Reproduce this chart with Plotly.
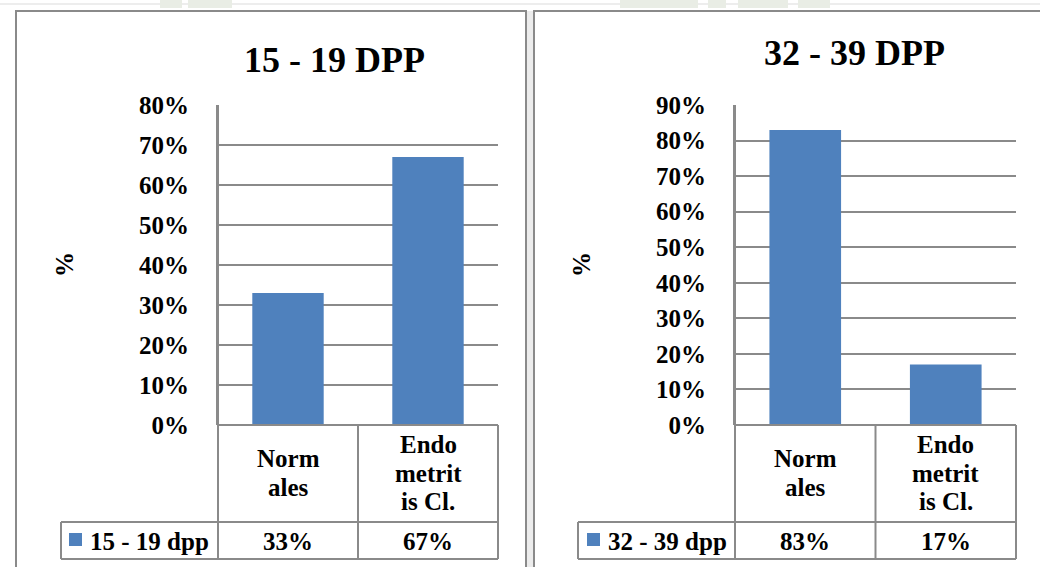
import plotly.graph_objects as go

# Data
categories = ["Normales", "Endometritis Cl."]
category_labels = [["Norm", "ales"], ["Endo", "metrit", "is Cl."]]
titles = ["15 - 19 DPP", "32 - 39 DPP"]
series_names = ["15 - 19 dpp", "32 - 39 dpp"]
values_15_19 = [0.33, 0.67]
values_32_39 = [0.83, 0.17]
axis_max = [0.8, 0.9]

W, H = 1040, 567
BAR_BLUE = "#4F81BD"
GRID = "#8a8a8a"
FONT = "Liberation Serif, Times New Roman, serif"


def px(x):
    return x / W


def py(y):
    return 1 - y / H


# Pixel layout of each chart panel
panels = [
    dict(box=(16, 526), plot=(218, 498), table_left=61, title=(334, 60),
         pct_x=65, key_x=69, name_x=149),
    dict(box=(534, 1046), plot=(735, 1016), table_left=578, title=(854, 53),
         pct_x=582, key_x=587, name_x=667),
]
PLOT_TOP, PLOT_BOTTOM = 105, 425
ROW_SPLIT, TABLE_BOTTOM = 522, 559

fig = go.Figure()
series = [values_15_19, values_32_39]
shapes, annotations = [], []

# faint strip along the top edge of the page
shapes.append(dict(type="line", xref="paper", yref="paper",
                   x0=0, x1=1, y0=py(4), y1=py(4),
                   line=dict(color="#ededed", width=2), layer="below"))
for (a, b) in [(160, 182), (188, 232), (620, 698), (708, 726), (738, 788),
               (798, 830)]:
    shapes.append(dict(type="rect", xref="paper", yref="paper",
                       x0=px(a), x1=px(b), y0=py(8), y1=py(0),
                       fillcolor="#e9ede5", line=dict(width=0), layer="below"))

# light strip between the two panels
shapes.append(dict(type="rect", xref="paper", yref="paper",
                   x0=px(526), x1=px(534), y0=py(11), y1=py(600),
                   fillcolor="#ececec", line=dict(width=0), layer="below"))

for i, (p, vals) in enumerate(zip(panels, series)):
    xa = "x" if i == 0 else f"x{i + 1}"
    ya = "y" if i == 0 else f"y{i + 1}"
    fig.add_trace(go.Bar(
        x=categories, y=vals, name=series_names[i],
        marker=dict(color=BAR_BLUE, line=dict(width=0)),
        xaxis=xa, yaxis=ya, showlegend=False,
    ))

    axis_suffix = "" if i == 0 else str(i + 1)
    fig.update_layout(**{
        f"xaxis{axis_suffix}": dict(
            domain=[px(p["plot"][0]), px(p["plot"][1])],
            anchor=ya, range=[-0.5, 1.5], showticklabels=False,
            showgrid=False, zeroline=False, showline=False, fixedrange=True,
        ),
        f"yaxis{axis_suffix}": dict(
            domain=[py(PLOT_BOTTOM), py(PLOT_TOP)],
            anchor=xa, range=[0, axis_max[i]], dtick=0.1, tickformat=".0%",
            showgrid=True, gridcolor=GRID, gridwidth=2, zeroline=False,
            showline=True, linecolor=GRID, linewidth=2,
            ticks="", ticklabelstandoff=22,
            tickfont=dict(family=FONT, size=25, color="black", weight="bold"),
            fixedrange=True,
        ),
    })

    bx0, bx1 = p["box"]
    x0, x1 = p["plot"]
    tl = p["table_left"]

    # panel frame
    shapes.append(dict(type="rect", xref="paper", yref="paper",
                       x0=px(bx0), x1=px(bx1), y0=py(600), y1=py(11),
                       line=dict(color=GRID, width=2), layer="below"))

    # data table grid
    xmid = (x0 + x1) / 2
    lines = [
        (x0, PLOT_BOTTOM, x1, PLOT_BOTTOM),
        (x0, PLOT_TOP, x0, TABLE_BOTTOM),
        (xmid, PLOT_BOTTOM, xmid, TABLE_BOTTOM),
        (x1, PLOT_BOTTOM, x1, TABLE_BOTTOM),
        (tl, ROW_SPLIT, x1, ROW_SPLIT),
        (tl, TABLE_BOTTOM, x1, TABLE_BOTTOM),
        (tl, ROW_SPLIT, tl, TABLE_BOTTOM),
    ]
    for (ax0, ay0, ax1, ay1) in lines:
        shapes.append(dict(type="line", xref="paper", yref="paper",
                           x0=px(ax0), y0=py(ay0), x1=px(ax1), y1=py(ay1),
                           line=dict(color=GRID, width=2)))

    # legend key in the table
    shapes.append(dict(type="rect", xref="paper", yref="paper",
                       x0=px(p["key_x"]), x1=px(p["key_x"] + 13),
                       y0=py(546), y1=py(533),
                       fillcolor=BAR_BLUE, line=dict(width=0)))
    annotations.append(dict(text=series_names[i], xref="paper", yref="paper",
                            x=px(p["name_x"]), y=py(541), showarrow=False,
                            xanchor="center", yanchor="middle",
                            font=dict(family=FONT, size=25, color="black",
                                      weight="bold")))

    # category labels and values
    for cat, label_lines, v in zip(categories, category_labels, vals):
        n = len(label_lines)
        for k, line in enumerate(label_lines):
            yline = 473 + (k - (n - 1) / 2) * 28.5
            annotations.append(dict(text=line, xref=xa, yref="paper",
                                    x=cat, y=py(yline), showarrow=False,
                                    xanchor="center", yanchor="middle",
                                    font=dict(family=FONT, size=25,
                                              color="black", weight="bold")))
        annotations.append(dict(text=f"{v:.0%}", xref=xa, yref="paper",
                                x=cat, y=py(541), showarrow=False,
                                xanchor="center", yanchor="middle",
                                font=dict(family=FONT, size=25, color="black",
                                          weight="bold")))

    # chart title
    annotations.append(dict(text=titles[i], xref="paper", yref="paper",
                            x=px(p["title"][0]), y=py(p["title"][1]),
                            showarrow=False, xanchor="center",
                            yanchor="middle",
                            font=dict(family=FONT, size=36, color="black",
                                      weight="bold")))
    # value axis title
    annotations.append(dict(text="%", xref="paper", yref="paper",
                            x=px(p["pct_x"]), y=py(265), textangle=-90,
                            showarrow=False, xanchor="center",
                            yanchor="middle",
                            font=dict(family=FONT, size=25, color="black",
                                      weight="bold")))

fig.update_layout(
    width=W, height=H,
    margin=dict(l=0, r=0, t=0, b=0, autoexpand=False),
    paper_bgcolor="white", plot_bgcolor="white",
    bargap=0.49,
    shapes=shapes, annotations=annotations,
    showlegend=False,
)

fig.write_html("out.html", config=dict(displayModeBar=False))
